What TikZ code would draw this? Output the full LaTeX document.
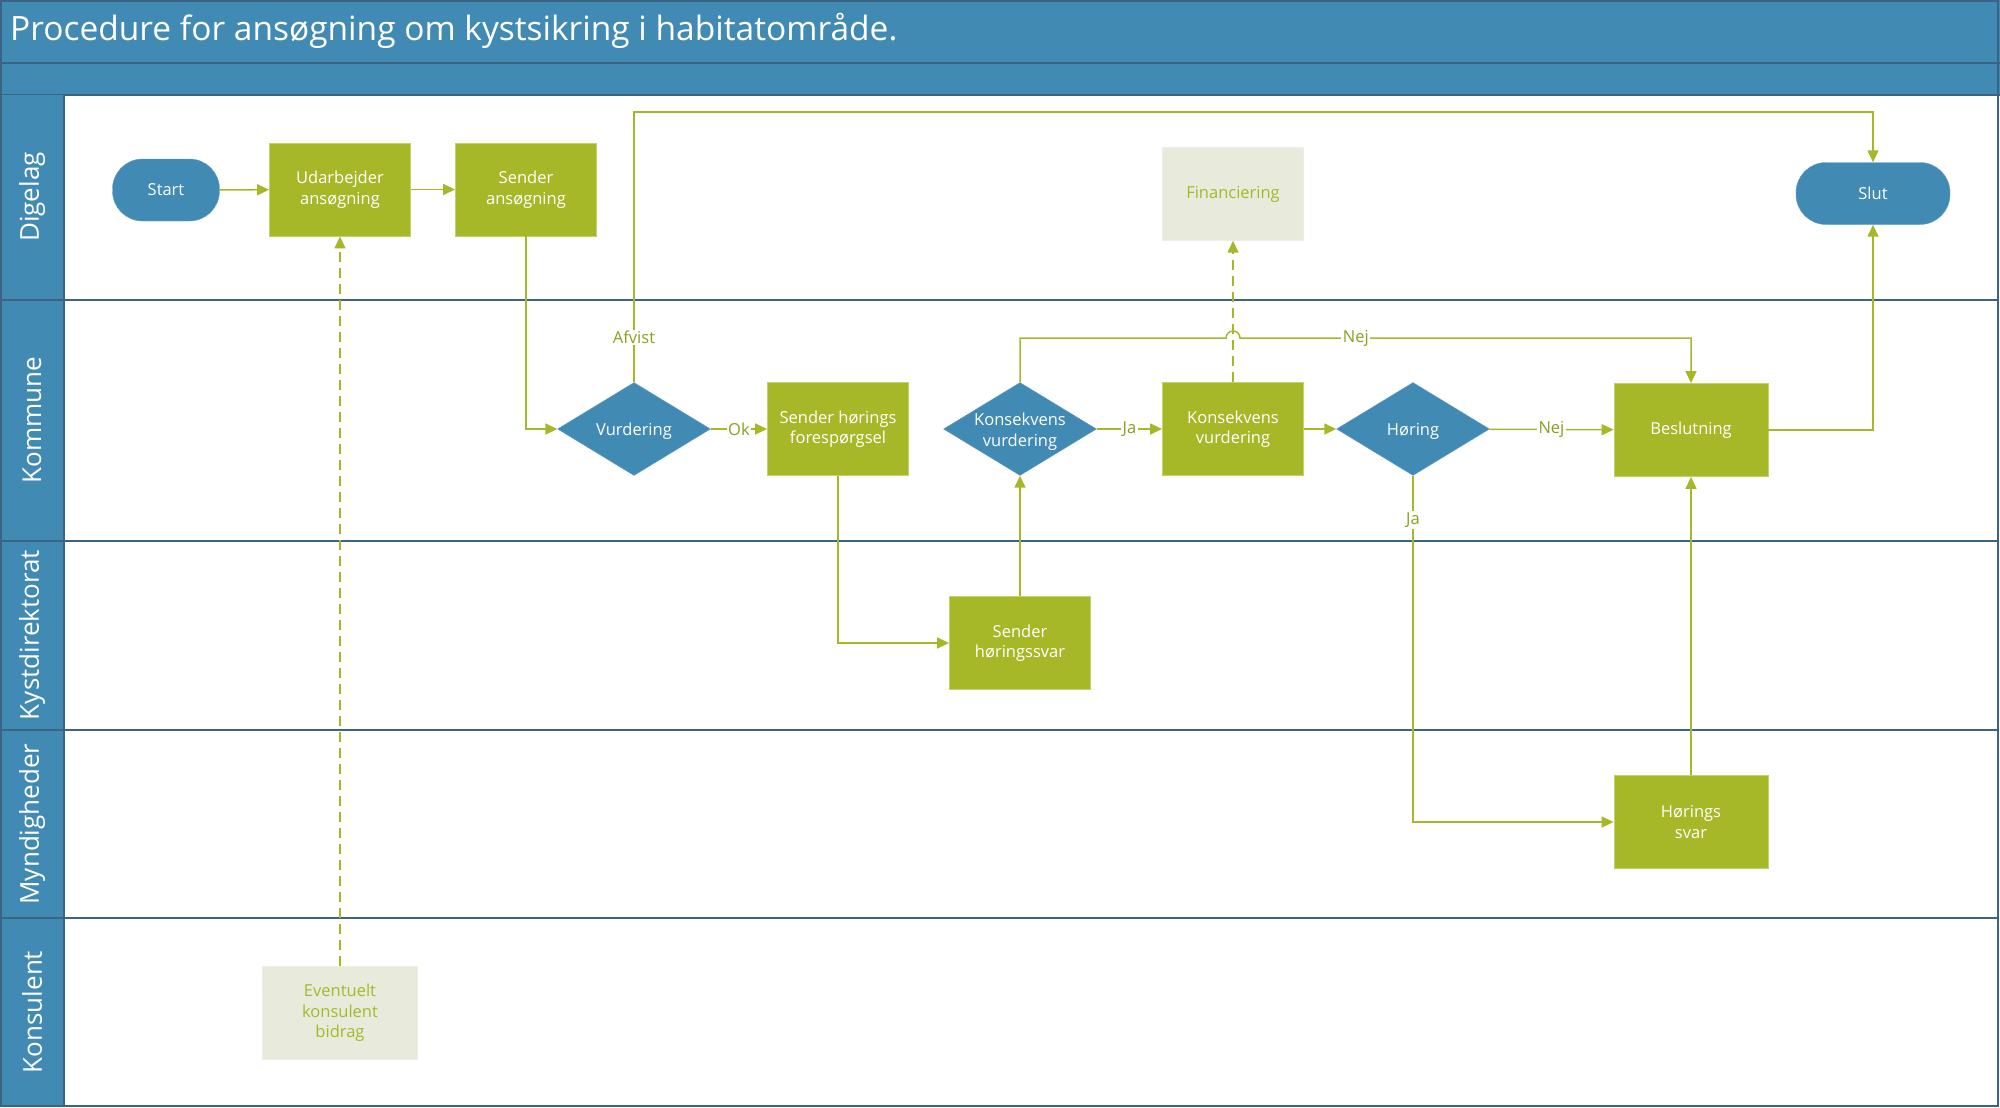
\documentclass[tikz,border=0pt]{standalone}
\usepackage{fontspec}
\setmainfont{Open Sans}
\usetikzlibrary{shapes.geometric,arrows.meta,calc}
\definecolor{hdrblue}{HTML}{418AB3}
\definecolor{edgeblue}{HTML}{3A6482}
\definecolor{boxgreen}{HTML}{A6B828}
\definecolor{boxedge}{HTML}{C3D26A}
\definecolor{linegreen}{HTML}{A6B828}
\definecolor{lblgreen}{HTML}{8C9E1E}
\definecolor{palefill}{HTML}{E8EBDB}
\tikzset{
  proc/.style={rectangle, fill=boxgreen, draw=boxedge, line width=0.8pt,
    minimum width=141pt, minimum height=93pt, text=white, align=center,
    font=\fontsize{16.5}{20.5}\selectfont, inner sep=2pt},
  pale/.style={rectangle, fill=palefill, draw=palefill!80!white,
    minimum width=141pt, minimum height=93pt, text=boxgreen, align=center,
    font=\fontsize{16.5}{20.5}\selectfont, inner sep=2pt},
  term/.style={rectangle, rounded corners=30pt, fill=hdrblue, draw=hdrblue!80!white,
    minimum width=107pt, minimum height=62pt, text=white,
    font=\fontsize{16.5}{20.5}\selectfont},
  dec/.style={diamond, fill=hdrblue, draw=hdrblue!80!white, inner sep=0pt,
    minimum width=153pt, minimum height=93pt},
  dtext/.style={text=white, align=center, font=\fontsize{16.5}{20.5}\selectfont, yshift=-2.5pt},
  conn/.style={draw=linegreen, line width=1.5pt,
    -{Triangle[length=12pt,width=11pt]}},
  dconn/.style={conn, dash pattern=on 10pt off 6pt},
  lbl/.style={fill=white, inner sep=1.5pt, text=lblgreen,
    font=\fontsize{16.5}{19}\selectfont},
  lanelbl/.style={rotate=90, text=white, font=\fontsize{26}{30}\selectfont},
  laneline/.style={draw=edgeblue, line width=2pt}
}
\begin{document}
\begin{tikzpicture}[x=1pt,y=-1pt]
\useasboundingbox (0,0) rectangle (2000,1108);
\fill[white] (0,0) rectangle (2000,1108);
% header bars
\fill[hdrblue] (0,0) rectangle (2000,95);
\draw[laneline] (0,63) -- (2000,63);
\draw[laneline] (0,95) -- (2000,95);
\node[anchor=west, text=white, font=\fontsize{33.5}{38}\selectfont, inner sep=0pt] (title) at (10,31) {Procedure for ansøgning om kystsikring i habitatområde.};
% lane column
\fill[hdrblue] (0,95) rectangle (64,1106);
\draw[laneline] (64,95) -- (64,1106);
% lane separators
\draw[laneline] (0,300) -- (1998,300);
\draw[laneline] (0,541) -- (1998,541);
\draw[laneline] (0,730) -- (1998,730);
\draw[laneline] (0,918) -- (1998,918);
\draw[laneline] (1,1) rectangle (1998,1106);
% lane labels
\node[lanelbl] (ln1) at (32,197) {Digelag};
\node[lanelbl] (ln2) at (32,420) {Kommune};
\node[lanelbl] (ln3) at (32,635) {Kystdirektorat};
\node[lanelbl] (ln4) at (32,824) {Myndigheder};
\node[lanelbl] (ln5) at (32,1012) {Konsulent};
% nodes
\node[term] (start) at (166,190) {Start};
\node[proc] (udar) at (340,189.5) {Udarbejder\\ansøgning};
\node[proc] (send) at (526,189.5) {Sender\\ansøgning};
\node[pale] (fin) at (1233,194) {Financiering};
\node[term, minimum width=154pt] (slut) at (1873,193.5) {Slut};
\node[dec, label={[dtext]center:Vurdering}] (vur) at (634,429) {};
\node[proc] (shf) at (838,429) {Sender hørings\\forespørgsel};
\node[dec, label={[dtext]center:Konsekvens\\vurdering}] (kdd) at (1020,429) {};
\node[proc] (kdr) at (1233,429) {Konsekvens\\vurdering};
\node[dec, label={[dtext]center:Høring}] (hor) at (1413,429) {};
\node[proc, minimum width=154pt] (bes) at (1691,430) {Beslutning};
\node[proc] (shs) at (1020,643) {Sender\\høringssvar};
\node[proc, minimum width=154pt] (hsv) at (1691,822) {Hørings\\svar};
\node[pale, minimum width=155pt] (evk) at (340,1013) {Eventuelt\\konsulent\\bidrag};
% helper coordinates
\coordinate (topc) at (0,112);
\coordinate (hopL) at (1226,338);
\coordinate (jaY) at (0,822);
% connectors
\draw[conn] (start) -- (udar);
\draw[conn] (udar) -- (send);
\draw[conn] (send.south) |- (vur.west);
\draw[conn] (vur.north) -- node[lbl, pos=0.166] {Afvist} (vur.north |- topc) -| (slut.north);
\draw[conn] (vur) -- node[lbl] {Ok} (shf);
\draw[conn] (shf.south) |- (shs.west);
\draw[conn] (shs.north) -- (kdd.south);
\draw[conn] (kdd) -- node[lbl] {Ja} (kdr);
\draw[dconn] (kdr.north) -- (fin.south);
\draw[conn] (kdd.north) |- (hopL) arc[start angle=180, end angle=0, radius=7pt] -- node[lbl, pos=0.257] {Nej} (bes.north |- hopL) -- (bes.north);
\draw[conn] (kdr) -- (hor);
\draw[conn] (hor) -- node[lbl] {Nej} (bes);
\draw[conn] (hor.south) -- node[lbl, pos=0.127] {Ja} (hor.south |- jaY) -- (hsv.west);
\draw[conn] (hsv) -- (bes);
\draw[conn] (bes.east) -| (slut.south);
\draw[dconn] (evk) -- (udar);
\end{tikzpicture}
\end{document}
